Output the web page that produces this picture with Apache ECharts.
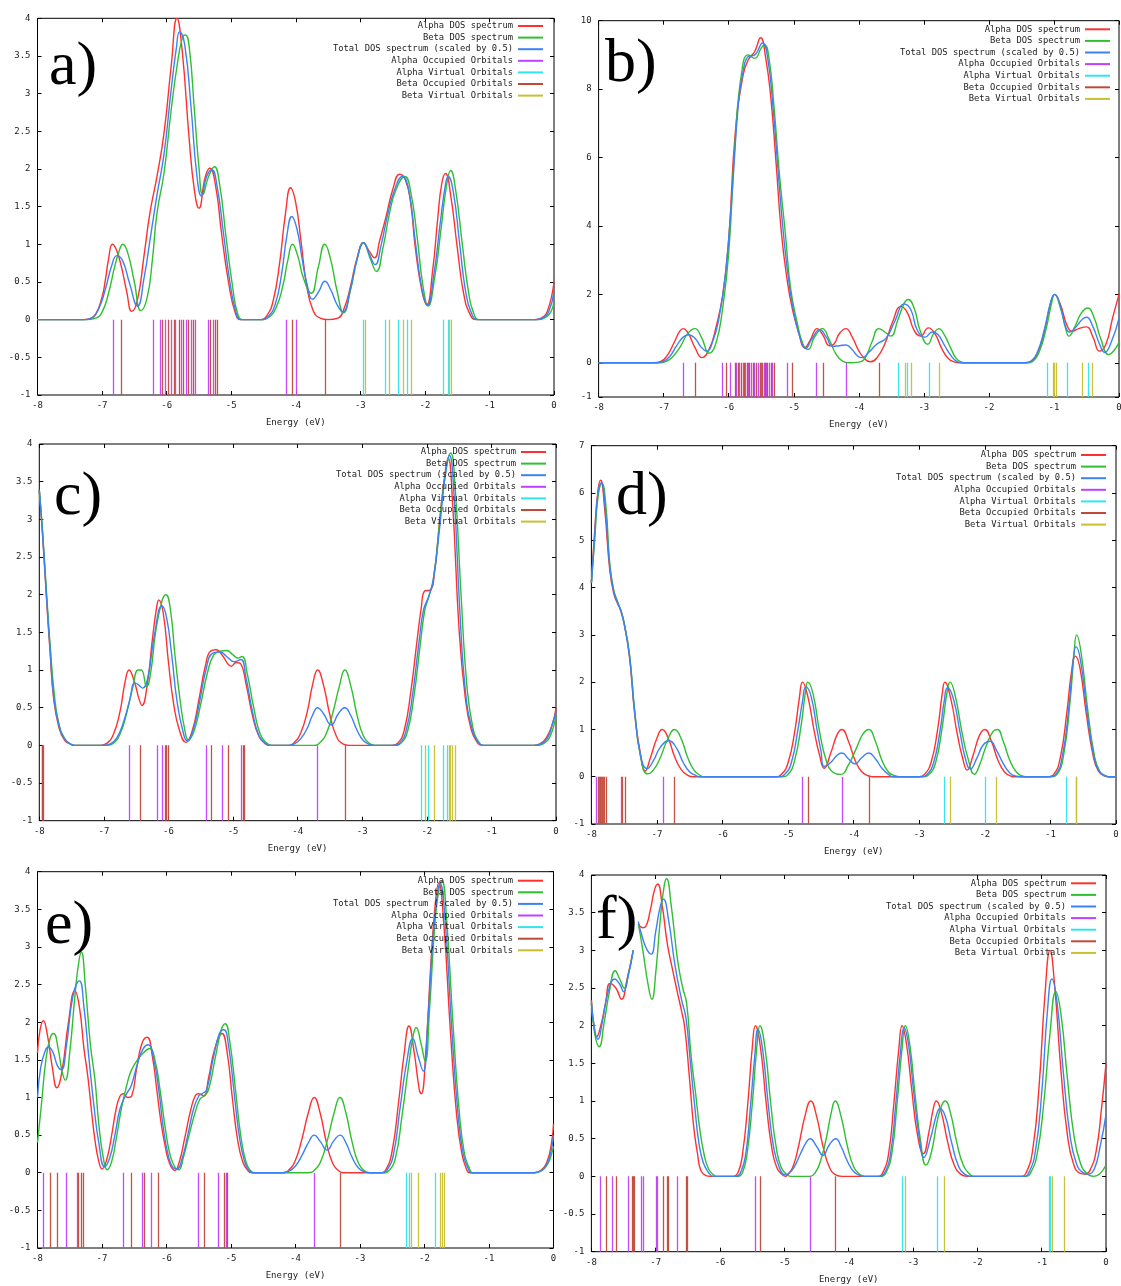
<!DOCTYPE html>
<html><head><meta charset="utf-8">
<script src="https://cdn.jsdelivr.net/npm/echarts@6/dist/echarts.min.js"></script>
<style>html,body{margin:0;padding:0;background:#fff}#c{width:1121px;height:1286px}</style>
</head><body><div id="c"></div><script>
// ---------- names / labels ----------
const seriesNames = ['Alpha DOS spectrum','Beta DOS spectrum','Total DOS spectrum (scaled by 0.5)','Alpha Occupied Orbitals','Alpha Virtual Orbitals','Beta Occupied Orbitals','Beta Virtual Orbitals'];
const panelLabels = ['a)','b)','c)','d)','e)','f)'];
const xTicks = [-8,-7,-6,-5,-4,-3,-2,-1,0];
const yTicksB = [-1,0,2,4,6,8,10];

// ---------- panel a ----------
const aAlpha = [[-8,0],[-7.3,0],[-7.2,0.01],[-7.1,0.07],[-7.0,0.3],[-6.95,0.52],[-6.9,0.8],[-6.84,1.0],[-6.78,0.93],[-6.7,0.7],[-6.62,0.38],[-6.54,0.11],[-6.45,0.27],[-6.35,0.85],[-6.26,1.41],[-6.15,1.9],[-6.04,2.48],[-5.93,3.36],[-5.84,4.0],[-5.76,3.58],[-5.65,2.39],[-5.57,1.72],[-5.5,1.48],[-5.4,1.9],[-5.33,2.01],[-5.24,1.77],[-5.15,1.15],[-5.04,0.49],[-4.93,0.07],[-4.85,0],[-4.55,0],[-4.45,0.05],[-4.35,0.25],[-4.25,0.75],[-4.16,1.4],[-4.08,1.75],[-4.0,1.55],[-3.92,1.05],[-3.83,0.45],[-3.73,0.12],[-3.62,0.02],[-3.5,0],[-3.35,0.02],[-3.25,0.15],[-3.15,0.45],[-3.05,0.82],[-2.95,1.02],[-2.87,0.92],[-2.78,0.82],[-2.7,1.05],[-2.6,1.37],[-2.5,1.72],[-2.39,1.93],[-2.3,1.85],[-2.22,1.55],[-2.15,0.97],[-2.05,0.4],[-1.97,0.2],[-1.88,0.65],[-1.8,1.35],[-1.74,1.8],[-1.68,1.94],[-1.6,1.65],[-1.5,0.97],[-1.4,0.35],[-1.3,0.07],[-1.2,0],[-0.3,0],[-0.2,0.02],[-0.1,0.12],[0,0.5]];
const aBeta = [[-8,0],[-7.25,0],[-7.1,0.02],[-7.0,0.1],[-6.9,0.35],[-6.8,0.72],[-6.72,0.95],[-6.68,1.0],[-6.6,0.88],[-6.5,0.5],[-6.4,0.12],[-6.3,0.3],[-6.22,0.8],[-6.15,1.41],[-6.04,1.95],[-5.93,2.78],[-5.84,3.36],[-5.76,3.73],[-5.71,3.78],[-5.65,3.62],[-5.57,2.78],[-5.5,2.03],[-5.44,1.66],[-5.35,1.9],[-5.26,2.03],[-5.18,1.8],[-5.08,1.1],[-4.98,0.45],[-4.9,0.08],[-4.82,0],[-4.55,0],[-4.42,0.03],[-4.3,0.17],[-4.2,0.45],[-4.12,0.8],[-4.05,1.0],[-3.97,0.85],[-3.88,0.55],[-3.76,0.35],[-3.65,0.7],[-3.55,1.0],[-3.46,0.8],[-3.36,0.38],[-3.26,0.09],[-3.15,0.4],[-3.05,0.8],[-2.95,1.02],[-2.85,0.82],[-2.75,0.64],[-2.65,0.95],[-2.55,1.4],[-2.45,1.72],[-2.31,1.9],[-2.22,1.7],[-2.12,1.1],[-2.03,0.45],[-1.95,0.18],[-1.85,0.55],[-1.75,1.2],[-1.67,1.75],[-1.6,1.98],[-1.52,1.7],[-1.42,1.0],[-1.33,0.4],[-1.25,0.1],[-1.15,0],[-0.25,0],[-0.15,0.02],[-0.05,0.1],[0,0.25]];
const aTotal = [[-8,0],[-7.3,0],[-7.15,0.03],[-7.05,0.15],[-6.95,0.4],[-6.85,0.72],[-6.77,0.85],[-6.68,0.78],[-6.58,0.5],[-6.45,0.18],[-6.35,0.55],[-6.25,1.1],[-6.15,1.65],[-6.04,2.2],[-5.93,3.05],[-5.85,3.6],[-5.8,3.82],[-5.72,3.65],[-5.62,2.8],[-5.53,1.9],[-5.46,1.64],[-5.38,1.9],[-5.3,1.99],[-5.22,1.78],[-5.12,1.15],[-5.02,0.5],[-4.92,0.08],[-4.85,0],[-4.55,0],[-4.43,0.04],[-4.32,0.2],[-4.22,0.6],[-4.14,1.1],[-4.06,1.37],[-3.98,1.2],[-3.9,0.8],[-3.82,0.45],[-3.74,0.27],[-3.64,0.38],[-3.55,0.51],[-3.46,0.4],[-3.36,0.2],[-3.27,0.1],[-3.15,0.42],[-3.05,0.8],[-2.95,1.02],[-2.86,0.87],[-2.77,0.73],[-2.68,0.98],[-2.58,1.38],[-2.47,1.72],[-2.35,1.9],[-2.25,1.72],[-2.15,1.05],[-2.05,0.43],[-1.96,0.19],[-1.86,0.6],[-1.76,1.3],[-1.68,1.8],[-1.64,1.9],[-1.56,1.7],[-1.46,1.0],[-1.37,0.38],[-1.28,0.09],[-1.18,0],[-0.28,0],[-0.18,0.02],[-0.08,0.11],[0,0.38]];
const aAlphaOcc = [-6.83,-6.20,-6.10,-6.02,-5.93,-5.86,-5.77,-5.70,-5.62,-5.56,-5.36,-5.28,-4.14,-4.00];
const aAlphaVirt = [-2.96,-2.61,-2.42,-2.28,-1.71,-1.64];
const aBetaOcc = [-6.70,-6.07,-5.97,-5.88,-5.80,-5.74,-5.66,-5.58,-5.32,-5.25,-5.22,-4.05,-3.55];
const aBetaVirt = [-2.93,-2.55,-2.34,-2.21,-1.62,-1.59];

// ---------- panel b ----------
const bAlpha = [[-8,0],[-7.15,0],[-7.05,0.03],[-6.95,0.2],[-6.85,0.55],[-6.75,0.93],[-6.7,1.0],[-6.62,0.85],[-6.52,0.45],[-6.41,0.15],[-6.3,0.4],[-6.2,1.0],[-6.09,2.0],[-6.0,3.6],[-5.9,6.7],[-5.78,8.4],[-5.7,8.85],[-5.6,9.1],[-5.51,9.5],[-5.43,8.9],[-5.35,7.7],[-5.27,5.8],[-5.19,3.8],[-5.1,2.4],[-5.02,1.56],[-4.92,0.85],[-4.83,0.44],[-4.75,0.65],[-4.64,1.0],[-4.55,0.8],[-4.45,0.5],[-4.38,0.55],[-4.3,0.85],[-4.2,1.0],[-4.1,0.75],[-4.0,0.35],[-3.9,0.1],[-3.82,0.03],[-3.72,0.15],[-3.6,0.55],[-3.48,1.2],[-3.35,1.65],[-3.25,1.45],[-3.15,0.95],[-3.05,0.78],[-2.93,1.02],[-2.83,0.85],[-2.72,0.4],[-2.62,0.12],[-2.52,0.02],[-2.45,0],[-1.45,0],[-1.35,0.05],[-1.25,0.3],[-1.15,0.9],[-1.05,1.75],[-0.99,2.0],[-0.9,1.7],[-0.8,1.1],[-0.72,0.92],[-0.62,1.0],[-0.5,1.05],[-0.4,0.75],[-0.3,0.34],[-0.2,0.55],[-0.1,1.3],[0,2.0]];
const bBeta = [[-8,0],[-7.05,0],[-6.95,0.05],[-6.85,0.2],[-6.75,0.45],[-6.62,0.88],[-6.52,1.0],[-6.42,0.75],[-6.3,0.28],[-6.2,0.55],[-6.1,1.5],[-6.0,3.2],[-5.9,6.5],[-5.8,8.5],[-5.7,9.0],[-5.6,8.9],[-5.5,9.2],[-5.45,9.3],[-5.38,8.9],[-5.3,7.4],[-5.22,5.5],[-5.13,3.8],[-5.05,2.2],[-4.95,1.2],[-4.86,0.55],[-4.78,0.39],[-4.68,0.75],[-4.56,1.0],[-4.46,0.7],[-4.35,0.25],[-4.25,0.05],[-4.15,0],[-4.0,0.02],[-3.9,0.15],[-3.8,0.6],[-3.69,1.0],[-3.6,0.9],[-3.51,0.78],[-3.4,1.25],[-3.3,1.75],[-3.24,1.85],[-3.15,1.6],[-3.05,0.9],[-2.94,0.54],[-2.85,0.85],[-2.77,1.0],[-2.68,0.8],[-2.58,0.4],[-2.5,0.12],[-2.42,0.02],[-2.35,0],[-1.42,0],[-1.32,0.05],[-1.22,0.35],[-1.12,1.0],[-1.03,1.8],[-0.99,2.0],[-0.9,1.6],[-0.82,1.0],[-0.77,0.78],[-0.68,1.05],[-0.58,1.45],[-0.48,1.6],[-0.38,1.3],[-0.28,0.7],[-0.16,0.24],[-0.08,0.35],[0,0.6]];
const bTotal = [[-8,0],[-7.1,0],[-7.0,0.04],[-6.9,0.2],[-6.8,0.5],[-6.7,0.75],[-6.62,0.82],[-6.52,0.72],[-6.42,0.45],[-6.34,0.34],[-6.25,0.6],[-6.15,1.3],[-6.05,2.6],[-5.95,4.9],[-5.85,7.6],[-5.78,8.5],[-5.7,8.95],[-5.6,9.0],[-5.48,9.35],[-5.4,8.9],[-5.32,7.5],[-5.24,5.6],[-5.16,3.8],[-5.07,2.3],[-4.98,1.3],[-4.88,0.6],[-4.82,0.42],[-4.72,0.7],[-4.6,0.97],[-4.5,0.75],[-4.4,0.48],[-4.3,0.5],[-4.2,0.52],[-4.1,0.38],[-4.02,0.2],[-3.95,0.15],[-3.85,0.3],[-3.72,0.55],[-3.58,0.72],[-3.45,1.2],[-3.3,1.72],[-3.2,1.55],[-3.1,0.95],[-2.98,0.75],[-2.87,0.9],[-2.78,0.82],[-2.68,0.5],[-2.58,0.2],[-2.5,0.05],[-2.42,0],[-1.45,0],[-1.35,0.05],[-1.25,0.33],[-1.15,0.95],[-1.05,1.78],[-0.99,2.0],[-0.9,1.65],[-0.82,1.05],[-0.76,0.9],[-0.66,1.05],[-0.56,1.28],[-0.5,1.33],[-0.4,1.05],[-0.3,0.55],[-0.22,0.3],[-0.12,0.6],[0,1.3]];
const bAlphaOcc = [-6.70,-6.10,-5.98,-5.88,-5.84,-5.78,-5.74,-5.70,-5.66,-5.60,-5.55,-5.50,-5.46,-5.42,-5.38,-5.33,-5.10,-4.65,-4.20];
const bAlphaVirt = [-3.40,-3.25,-2.91,-1.11,-0.80,-0.47];
const bBetaOcc = [-6.52,-6.03,-5.90,-5.86,-5.81,-5.76,-5.72,-5.68,-5.63,-5.58,-5.52,-5.48,-5.44,-5.40,-5.35,-5.30,-5.02,-4.54,-3.68];
const bBetaVirt = [-3.29,-3.19,-2.76,-1.01,-0.99,-0.96,-0.57,-0.41];

// ---------- panel c ----------
const cAlpha = [[-8,3.39],[-7.95,2.8],[-7.89,1.97],[-7.83,1.2],[-7.78,0.64],[-7.7,0.25],[-7.61,0.07],[-7.5,0.01],[-7.45,0],[-7.05,0],[-6.95,0.03],[-6.85,0.15],[-6.75,0.45],[-6.67,0.85],[-6.61,1.0],[-6.53,0.85],[-6.45,0.6],[-6.41,0.53],[-6.33,0.8],[-6.25,1.4],[-6.18,1.85],[-6.15,1.93],[-6.08,1.75],[-6.0,1.1],[-5.92,0.55],[-5.83,0.2],[-5.73,0.04],[-5.63,0.2],[-5.53,0.6],[-5.43,1.05],[-5.35,1.25],[-5.26,1.27],[-5.17,1.2],[-5.08,1.08],[-5.03,1.05],[-4.95,1.1],[-4.88,1.08],[-4.8,0.82],[-4.7,0.4],[-4.6,0.12],[-4.5,0.02],[-4.43,0],[-4.15,0],[-4.05,0.04],[-3.95,0.17],[-3.85,0.45],[-3.77,0.8],[-3.69,1.0],[-3.6,0.8],[-3.5,0.4],[-3.4,0.12],[-3.3,0.02],[-3.2,0],[-2.55,0],[-2.45,0.03],[-2.35,0.2],[-2.25,0.7],[-2.15,1.4],[-2.09,1.8],[-2.03,2.05],[-1.95,2.06],[-1.88,2.3],[-1.8,3.0],[-1.72,3.6],[-1.67,3.81],[-1.6,3.2],[-1.5,1.53],[-1.4,0.6],[-1.31,0.2],[-1.22,0.04],[-1.15,0],[-0.35,0],[-0.25,0.02],[-0.15,0.1],[-0.05,0.3],[0,0.5]];
const cBeta = [[-8,3.39],[-7.95,2.85],[-7.89,2.05],[-7.83,1.3],[-7.77,0.7],[-7.7,0.3],[-7.6,0.08],[-7.5,0.01],[-7.45,0],[-6.95,0],[-6.85,0.03],[-6.75,0.15],[-6.65,0.42],[-6.55,0.78],[-6.47,1.0],[-6.42,1.0],[-6.34,0.78],[-6.27,1.0],[-6.2,1.5],[-6.1,1.92],[-6.04,2.0],[-5.97,1.8],[-5.9,1.2],[-5.82,0.6],[-5.75,0.22],[-5.69,0.07],[-5.6,0.2],[-5.5,0.55],[-5.4,0.95],[-5.3,1.2],[-5.2,1.25],[-5.1,1.26],[-5.0,1.2],[-4.93,1.16],[-4.86,1.18],[-4.78,0.95],[-4.68,0.5],[-4.58,0.15],[-4.48,0.03],[-4.4,0],[-3.75,0],[-3.65,0.04],[-3.55,0.17],[-3.45,0.45],[-3.35,0.8],[-3.27,1.0],[-3.18,0.8],[-3.08,0.4],[-2.98,0.12],[-2.88,0.02],[-2.8,0],[-2.5,0],[-2.4,0.03],[-2.3,0.18],[-2.2,0.65],[-2.1,1.35],[-2.03,1.8],[-1.97,1.97],[-1.9,2.2],[-1.82,2.8],[-1.73,3.5],[-1.63,3.88],[-1.56,3.4],[-1.47,2.0],[-1.38,0.8],[-1.29,0.25],[-1.2,0.05],[-1.12,0],[-0.3,0],[-0.2,0.02],[-0.1,0.1],[0,0.4]];
const cTotal = [[-8,3.39],[-7.95,2.82],[-7.89,2.0],[-7.83,1.25],[-7.78,0.67],[-7.7,0.28],[-7.6,0.08],[-7.5,0.01],[-7.45,0],[-7.0,0],[-6.9,0.02],[-6.8,0.1],[-6.7,0.3],[-6.6,0.6],[-6.52,0.83],[-6.46,0.8],[-6.4,0.76],[-6.32,0.9],[-6.22,1.45],[-6.1,1.85],[-6.03,1.7],[-5.95,1.2],[-5.87,0.6],[-5.78,0.2],[-5.71,0.06],[-5.62,0.2],[-5.52,0.57],[-5.42,1.0],[-5.32,1.22],[-5.2,1.24],[-5.1,1.18],[-4.98,1.11],[-4.88,1.14],[-4.8,0.9],[-4.7,0.45],[-4.6,0.13],[-4.5,0.03],[-4.42,0],[-4.15,0],[-4.05,0.02],[-3.95,0.09],[-3.85,0.23],[-3.77,0.4],[-3.69,0.5],[-3.6,0.42],[-3.48,0.27],[-3.37,0.42],[-3.27,0.5],[-3.18,0.4],[-3.08,0.2],[-2.98,0.06],[-2.88,0.01],[-2.8,0],[-2.52,0],[-2.42,0.03],[-2.32,0.2],[-2.22,0.68],[-2.12,1.38],[-2.05,1.8],[-1.97,1.98],[-1.9,2.2],[-1.8,2.9],[-1.72,3.55],[-1.65,3.85],[-1.58,3.35],[-1.49,1.8],[-1.4,0.7],[-1.3,0.22],[-1.21,0.05],[-1.13,0],[-0.33,0],[-0.23,0.02],[-0.13,0.1],[-0.05,0.3],[0,0.45]];
const cAlphaOcc = [-7.96,-6.61,-6.18,-6.10,-5.42,-5.17,-4.88,-3.69];
const cAlphaVirt = [-2.08,-1.98,-1.75,-1.68];
const cBetaOcc = [-7.95,-7.94,-6.44,-6.05,-6.03,-6.01,-5.34,-5.08,-4.85,-4.83,-3.27];
const cBetaVirt = [-2.03,-1.89,-1.66,-1.63,-1.60,-1.56];

// ---------- panel d ----------
const dAlpha = [[-8,4.09],[-7.95,5.2],[-7.9,6.05],[-7.86,6.27],[-7.8,5.7],[-7.72,4.37],[-7.66,3.88],[-7.6,3.66],[-7.55,3.52],[-7.5,3.24],[-7.42,2.54],[-7.34,1.34],[-7.25,0.46],[-7.18,0.12],[-7.1,0.4],[-7.0,0.82],[-6.92,1.0],[-6.83,0.82],[-6.73,0.42],[-6.63,0.15],[-6.53,0.03],[-6.45,0],[-5.2,0],[-5.1,0.05],[-5.0,0.3],[-4.9,0.95],[-4.83,1.65],[-4.78,2.0],[-4.7,1.7],[-4.6,0.95],[-4.52,0.45],[-4.45,0.18],[-4.35,0.5],[-4.25,0.9],[-4.18,1.0],[-4.08,0.75],[-3.98,0.35],[-3.88,0.11],[-3.78,0.02],[-3.7,0],[-3.0,0],[-2.92,0.05],[-2.82,0.3],[-2.72,1.0],[-2.65,1.75],[-2.61,2.0],[-2.52,1.65],[-2.42,0.9],[-2.34,0.4],[-2.27,0.14],[-2.18,0.45],[-2.08,0.88],[-2.0,1.0],[-1.9,0.75],[-1.8,0.35],[-1.7,0.1],[-1.6,0.01],[-1.55,0],[-1.05,0],[-0.95,0.05],[-0.85,0.4],[-0.75,1.35],[-0.68,2.2],[-0.62,2.55],[-0.55,2.3],[-0.45,1.3],[-0.35,0.45],[-0.27,0.12],[-0.18,0.02],[-0.1,0],[0,0]];
const dBeta = [[-8,4.1],[-7.95,5.0],[-7.9,5.9],[-7.84,6.2],[-7.78,5.75],[-7.72,4.5],[-7.66,3.95],[-7.6,3.7],[-7.55,3.5],[-7.5,3.25],[-7.42,2.6],[-7.34,1.4],[-7.25,0.42],[-7.14,0.06],[-7.05,0.15],[-6.95,0.4],[-6.85,0.75],[-6.73,1.0],[-6.63,0.8],[-6.53,0.4],[-6.43,0.13],[-6.33,0.02],[-6.28,0],[-5.1,0],[-5.0,0.05],[-4.9,0.35],[-4.8,1.1],[-4.74,1.75],[-4.7,2.0],[-4.62,1.75],[-4.52,0.95],[-4.42,0.35],[-4.32,0.1],[-4.2,0.05],[-4.08,0.25],[-3.96,0.6],[-3.86,0.9],[-3.77,1.0],[-3.67,0.75],[-3.57,0.35],[-3.47,0.1],[-3.37,0.02],[-3.3,0],[-2.95,0],[-2.85,0.05],[-2.75,0.3],[-2.65,1.05],[-2.58,1.75],[-2.53,2.0],[-2.45,1.7],[-2.35,0.95],[-2.25,0.35],[-2.16,0.05],[-2.08,0.25],[-1.98,0.65],[-1.88,0.95],[-1.81,1.0],[-1.72,0.75],[-1.62,0.35],[-1.52,0.1],[-1.42,0.01],[-1.38,0],[-1.0,0],[-0.9,0.05],[-0.8,0.45],[-0.7,1.6],[-0.64,2.6],[-0.6,3.0],[-0.53,2.6],[-0.43,1.4],[-0.33,0.45],[-0.25,0.12],[-0.16,0.02],[-0.1,0],[0,0]];
const dTotal = [[-8,4.1],[-7.95,5.1],[-7.9,6.0],[-7.85,6.22],[-7.79,5.7],[-7.72,4.45],[-7.66,3.92],[-7.6,3.68],[-7.55,3.5],[-7.5,3.22],[-7.42,2.57],[-7.34,1.37],[-7.25,0.45],[-7.15,0.17],[-7.05,0.35],[-6.95,0.62],[-6.82,0.76],[-6.7,0.6],[-6.6,0.3],[-6.5,0.1],[-6.4,0.02],[-6.35,0],[-5.15,0],[-5.05,0.05],[-4.95,0.3],[-4.85,1.0],[-4.78,1.6],[-4.73,1.9],[-4.65,1.7],[-4.56,1.0],[-4.5,0.55],[-4.45,0.22],[-4.35,0.3],[-4.25,0.46],[-4.18,0.5],[-4.08,0.38],[-3.98,0.27],[-3.88,0.4],[-3.77,0.5],[-3.67,0.38],[-3.57,0.18],[-3.47,0.05],[-3.4,0],[-2.98,0],[-2.88,0.05],[-2.78,0.3],[-2.68,1.0],[-2.62,1.6],[-2.57,1.88],[-2.48,1.65],[-2.38,0.95],[-2.3,0.4],[-2.22,0.16],[-2.12,0.4],[-2.02,0.68],[-1.92,0.75],[-1.82,0.55],[-1.72,0.28],[-1.62,0.08],[-1.52,0.01],[-1.45,0],[-1.02,0],[-0.92,0.05],[-0.82,0.42],[-0.72,1.45],[-0.66,2.35],[-0.61,2.75],[-0.54,2.45],[-0.44,1.35],[-0.34,0.45],[-0.26,0.12],[-0.17,0.02],[-0.1,0],[0,0]];
const dAlphaOcc = [-7.92,-7.88,-7.85,-7.82,-7.55,-6.91,-4.79,-4.18];
const dAlphaVirt = [-2.62,-2.00,-0.76];
const dBetaOcc = [-7.90,-7.86,-7.83,-7.80,-7.78,-7.53,-7.48,-6.74,-4.69,-3.76];
const dBetaVirt = [-2.53,-1.82,-0.61,-0.60];

// ---------- panel e ----------
const eAlpha = [[-8,1.59],[-7.96,1.9],[-7.91,2.02],[-7.85,1.85],[-7.77,1.4],[-7.7,1.13],[-7.62,1.35],[-7.52,2.0],[-7.42,2.42],[-7.35,2.2],[-7.28,1.65],[-7.22,1.28],[-7.16,0.8],[-7.11,0.44],[-7.05,0.15],[-7.0,0.05],[-6.92,0.2],[-6.85,0.5],[-6.78,0.85],[-6.72,1.02],[-6.67,1.05],[-6.6,1.0],[-6.54,1.02],[-6.46,1.4],[-6.38,1.72],[-6.3,1.8],[-6.22,1.55],[-6.15,1.1],[-6.09,0.7],[-6.02,0.35],[-5.95,0.12],[-5.87,0.03],[-5.8,0.15],[-5.72,0.45],[-5.62,0.85],[-5.55,1.03],[-5.5,1.05],[-5.42,1.02],[-5.35,1.25],[-5.25,1.65],[-5.14,1.85],[-5.06,1.6],[-4.98,1.0],[-4.9,0.45],[-4.82,0.15],[-4.74,0.03],[-4.68,0],[-4.2,0],[-4.1,0.04],[-4.0,0.17],[-3.9,0.45],[-3.8,0.8],[-3.71,1.0],[-3.62,0.8],[-3.52,0.4],[-3.42,0.12],[-3.32,0.02],[-3.25,0],[-2.7,0],[-2.6,0.04],[-2.5,0.3],[-2.4,0.95],[-2.32,1.55],[-2.24,1.95],[-2.16,1.6],[-2.08,1.1],[-2.05,1.05],[-1.98,1.6],[-1.9,2.8],[-1.83,3.6],[-1.78,3.85],[-1.7,3.3],[-1.6,1.9],[-1.5,0.75],[-1.42,0.25],[-1.35,0.05],[-1.3,0],[-0.3,0],[-0.2,0.03],[-0.1,0.15],[-0.03,0.4],[0,0.65]];
const eBeta = [[-8,0.4],[-7.94,0.9],[-7.87,1.5],[-7.8,1.8],[-7.75,1.85],[-7.68,1.65],[-7.62,1.35],[-7.57,1.23],[-7.5,1.6],[-7.42,2.35],[-7.36,2.8],[-7.32,2.93],[-7.26,2.5],[-7.18,1.7],[-7.11,1.24],[-7.05,0.65],[-6.98,0.2],[-6.92,0.04],[-6.85,0.15],[-6.78,0.45],[-6.7,0.85],[-6.62,1.15],[-6.55,1.35],[-6.45,1.5],[-6.35,1.6],[-6.26,1.65],[-6.18,1.5],[-6.1,1.1],[-6.02,0.6],[-5.94,0.22],[-5.86,0.06],[-5.81,0.04],[-5.74,0.2],[-5.65,0.5],[-5.55,0.82],[-5.48,0.98],[-5.42,1.02],[-5.35,1.1],[-5.25,1.5],[-5.15,1.9],[-5.09,1.98],[-5.02,1.75],[-4.93,1.1],[-4.85,0.5],[-4.77,0.15],[-4.7,0.03],[-4.64,0],[-3.8,0],[-3.7,0.04],[-3.6,0.17],[-3.5,0.45],[-3.4,0.8],[-3.31,1.0],[-3.22,0.8],[-3.12,0.4],[-3.02,0.12],[-2.92,0.02],[-2.85,0],[-2.65,0],[-2.55,0.03],[-2.45,0.2],[-2.35,0.75],[-2.25,1.4],[-2.18,1.8],[-2.13,1.93],[-2.05,1.7],[-1.99,1.48],[-1.92,2.2],[-1.84,3.3],[-1.78,3.75],[-1.73,3.88],[-1.66,3.4],[-1.56,2.0],[-1.46,0.8],[-1.38,0.25],[-1.3,0.05],[-1.25,0],[-0.3,0],[-0.2,0.02],[-0.1,0.1],[-0.03,0.25],[0,0.35]];
const eTotal = [[-8,1.0],[-7.95,1.4],[-7.88,1.62],[-7.83,1.67],[-7.76,1.6],[-7.69,1.42],[-7.63,1.37],[-7.55,1.7],[-7.45,2.35],[-7.35,2.55],[-7.28,2.2],[-7.2,1.5],[-7.12,0.85],[-7.05,0.4],[-6.96,0.08],[-6.88,0.2],[-6.8,0.5],[-6.72,0.85],[-6.62,1.05],[-6.55,1.15],[-6.45,1.45],[-6.36,1.65],[-6.28,1.7],[-6.2,1.52],[-6.12,1.1],[-6.05,0.6],[-5.97,0.22],[-5.9,0.07],[-5.84,0.05],[-5.76,0.18],[-5.67,0.5],[-5.58,0.85],[-5.5,1.02],[-5.45,1.05],[-5.38,1.1],[-5.28,1.5],[-5.18,1.85],[-5.11,1.9],[-5.04,1.7],[-4.95,1.05],[-4.87,0.48],[-4.79,0.15],[-4.72,0.03],[-4.66,0],[-4.2,0],[-4.1,0.02],[-4.0,0.09],[-3.9,0.23],[-3.8,0.4],[-3.71,0.5],[-3.62,0.42],[-3.51,0.3],[-3.41,0.42],[-3.31,0.5],[-3.22,0.4],[-3.12,0.2],[-3.02,0.06],[-2.92,0.01],[-2.85,0],[-2.68,0],[-2.58,0.04],[-2.48,0.25],[-2.38,0.85],[-2.28,1.45],[-2.18,1.78],[-2.1,1.55],[-2.02,1.35],[-1.95,2.0],[-1.87,3.1],[-1.8,3.7],[-1.76,3.85],[-1.68,3.35],[-1.58,1.95],[-1.48,0.78],[-1.4,0.25],[-1.32,0.05],[-1.27,0],[-0.3,0],[-0.2,0.02],[-0.1,0.12],[-0.03,0.32],[0,0.5]];
const eAlphaOcc = [-7.91,-7.56,-7.39,-6.67,-6.37,-6.23,-5.51,-5.19,-5.08,-3.71];
const eAlphaVirt = [-2.28,-2.24,-1.84];
const eBetaOcc = [-7.81,-7.70,-7.37,-7.32,-7.29,-6.54,-6.34,-6.13,-5.42,-5.10,-5.06,-3.31];
const eBetaVirt = [-2.20,-2.10,-1.76,-1.72,-1.69];

// ---------- panel f (curves hidden behind the label between -7.35 and -7.27) ----------
const fAlpha = [[-8,2.34],[-7.96,2.0],[-7.92,1.85],[-7.86,1.98],[-7.78,2.3],[-7.71,2.56],[-7.62,2.5],[-7.53,2.35],[-7.45,2.6],[-7.35,3.0],[-7.31,null],[-7.27,3.35],[-7.2,3.3],[-7.16,3.31],[-7.08,3.55],[-7.02,3.8],[-6.97,3.88],[-6.9,3.6],[-6.82,3.09],[-6.74,2.75],[-6.66,2.43],[-6.6,2.2],[-6.55,1.98],[-6.48,1.35],[-6.41,0.66],[-6.35,0.3],[-6.3,0.08],[-6.22,0.01],[-6.15,0],[-5.8,0],[-5.72,0.05],[-5.65,0.3],[-5.57,0.95],[-5.5,1.7],[-5.45,2.0],[-5.37,1.7],[-5.28,0.95],[-5.2,0.4],[-5.12,0.12],[-5.03,0.02],[-4.98,0],[-4.95,0.02],[-4.87,0.12],[-4.78,0.4],[-4.68,0.8],[-4.59,1.0],[-4.5,0.8],[-4.4,0.4],[-4.3,0.12],[-4.2,0.02],[-4.1,0],[-3.55,0],[-3.47,0.05],[-3.38,0.3],[-3.3,0.95],[-3.22,1.7],[-3.17,2.0],[-3.1,1.75],[-3.02,1.15],[-2.93,0.55],[-2.84,0.3],[-2.75,0.6],[-2.68,0.92],[-2.64,1.0],[-2.56,0.85],[-2.46,0.45],[-2.36,0.15],[-2.26,0.03],[-2.16,0],[-1.32,0],[-1.24,0.05],[-1.14,0.35],[-1.04,1.2],[-0.95,2.4],[-0.87,3.0],[-0.8,2.55],[-0.7,1.4],[-0.6,0.55],[-0.5,0.15],[-0.4,0.04],[-0.33,0.03],[-0.25,0.08],[-0.15,0.35],[-0.07,0.9],[0,1.5]];
const fBeta = [[-8,2.32],[-7.95,1.9],[-7.88,1.72],[-7.8,2.05],[-7.72,2.45],[-7.63,2.73],[-7.56,2.62],[-7.49,2.5],[-7.42,2.7],[-7.35,3.0],[-7.31,null],[-7.27,3.35],[-7.2,3.0],[-7.12,2.55],[-7.06,2.35],[-7.0,2.7],[-6.93,3.4],[-6.87,3.85],[-6.83,3.95],[-6.76,3.6],[-6.66,2.87],[-6.58,2.5],[-6.52,2.3],[-6.45,1.6],[-6.38,1.1],[-6.32,0.66],[-6.25,0.3],[-6.18,0.1],[-6.1,0.02],[-6.05,0],[-5.72,0],[-5.65,0.05],[-5.58,0.3],[-5.5,0.95],[-5.43,1.7],[-5.38,2.0],[-5.3,1.7],[-5.21,0.95],[-5.13,0.4],[-5.05,0.12],[-4.96,0.02],[-4.9,0],[-4.6,0],[-4.52,0.05],[-4.44,0.2],[-4.35,0.5],[-4.27,0.85],[-4.21,1.0],[-4.12,0.8],[-4.02,0.4],[-3.92,0.12],[-3.82,0.02],[-3.75,0],[-3.5,0],[-3.42,0.05],[-3.33,0.3],[-3.25,0.95],[-3.17,1.7],[-3.12,2.0],[-3.05,1.75],[-2.97,1.1],[-2.88,0.45],[-2.8,0.15],[-2.72,0.3],[-2.62,0.75],[-2.55,0.95],[-2.5,1.0],[-2.42,0.85],[-2.32,0.45],[-2.22,0.15],[-2.12,0.03],[-2.05,0],[-1.25,0],[-1.17,0.05],[-1.07,0.3],[-0.97,0.95],[-0.87,1.9],[-0.78,2.45],[-0.7,2.15],[-0.6,1.3],[-0.5,0.55],[-0.4,0.18],[-0.3,0.04],[-0.19,0],[-0.1,0.03],[0,0.15]];
const fTotal = [[-8,2.3],[-7.95,1.95],[-7.9,1.82],[-7.83,2.05],[-7.74,2.45],[-7.64,2.62],[-7.56,2.55],[-7.5,2.45],[-7.43,2.65],[-7.35,3.0],[-7.31,null],[-7.27,3.38],[-7.2,3.15],[-7.13,3.0],[-7.07,2.95],[-7.0,3.25],[-6.93,3.58],[-6.88,3.68],[-6.8,3.4],[-6.7,2.8],[-6.6,2.35],[-6.53,2.1],[-6.46,1.5],[-6.39,0.9],[-6.33,0.45],[-6.26,0.18],[-6.18,0.05],[-6.1,0],[-5.76,0],[-5.68,0.05],[-5.6,0.3],[-5.53,0.9],[-5.46,1.6],[-5.41,1.95],[-5.34,1.7],[-5.25,0.95],[-5.17,0.4],[-5.08,0.12],[-4.99,0.02],[-4.93,0.04],[-4.85,0.12],[-4.75,0.3],[-4.66,0.45],[-4.6,0.5],[-4.5,0.4],[-4.4,0.28],[-4.3,0.42],[-4.2,0.5],[-4.12,0.4],[-4.02,0.2],[-3.92,0.06],[-3.82,0.01],[-3.75,0],[-3.52,0],[-3.44,0.05],[-3.35,0.3],[-3.27,0.95],[-3.19,1.7],[-3.14,1.97],[-3.07,1.75],[-2.99,1.12],[-2.9,0.5],[-2.83,0.25],[-2.73,0.5],[-2.63,0.83],[-2.58,0.9],[-2.5,0.8],[-2.4,0.45],[-2.3,0.15],[-2.2,0.03],[-2.1,0],[-1.28,0],[-1.2,0.05],[-1.1,0.32],[-1.0,1.1],[-0.91,2.2],[-0.84,2.62],[-0.76,2.3],[-0.66,1.35],[-0.56,0.55],[-0.46,0.17],[-0.36,0.05],[-0.27,0.03],[-0.18,0.1],[-0.09,0.4],[0,0.82]];
const fAlphaOcc = [-7.86,-7.67,-7.43,-7.22,-7.20,-6.99,-6.98,-6.66,-5.45,-4.59];
const fAlphaVirt = [-3.17,-2.62,-0.88,-0.87];
const fBetaOcc = [-7.77,-7.61,-7.37,-7.35,-7.33,-6.88,-6.82,-6.80,-6.53,-6.51,-5.37,-4.21];
const fBetaVirt = [-3.12,-2.51,-0.83,-0.65];

// ---------- assembling ----------
const panels = [
  {curves:[aAlpha,aBeta,aTotal], levels:[aAlphaOcc,aAlphaVirt,aBetaOcc,aBetaVirt], y:[-1,4,0.5]},
  {curves:[bAlpha,bBeta,bTotal], levels:[bAlphaOcc,bAlphaVirt,bBetaOcc,bBetaVirt], y:[-1,10,null]},
  {curves:[cAlpha,cBeta,cTotal], levels:[cAlphaOcc,cAlphaVirt,cBetaOcc,cBetaVirt], y:[-1,4,0.5]},
  {curves:[dAlpha,dBeta,dTotal], levels:[dAlphaOcc,dAlphaVirt,dBetaOcc,dBetaVirt], y:[-1,7,1]},
  {curves:[eAlpha,eBeta,eTotal], levels:[eAlphaOcc,eAlphaVirt,eBetaOcc,eBetaVirt], y:[-1,4,0.5]},
  {curves:[fAlpha,fBeta,fTotal], levels:[fAlphaOcc,fAlphaVirt,fBetaOcc,fBetaVirt], y:[-1,4,0.5]}
];
const layout = [
  {grid:[37.5,18.3,516.5,376.7], legend:[578,20.2], label:[49,37]},
  {grid:[598.6,20.7,520.4,376.3], legend:[11,23.5], label:[605,34]},
  {grid:[39.3,444,516.7,376.7], legend:[575,446.2], label:[54,467]},
  {grid:[591.4,445.7,524.6,378.3], legend:[15,449.2], label:[616,467]},
  {grid:[37.5,871.7,516,376.3], legend:[578,874.9], label:[45,896]},
  {grid:[591.4,875,514.6,376.7], legend:[25,877.5], label:[596,891]}
];
const colors = ['#ff3030','#2fbf2f','#3c82f5','#c040ff','#30e6ee','#c04a3a','#c8c030'];
const MONO = 'DejaVu Sans Mono';
const txt = {fontFamily:MONO, fontSize:9, color:'#222'};

const grid=[], xAxis=[], yAxis=[], series=[], legend=[], title=[];
panels.forEach((p,i)=>{
  const L = layout[i];
  grid.push({left:L.grid[0], top:L.grid[1], width:L.grid[2], height:L.grid[3], show:true, borderColor:'#000', borderWidth:1, backgroundColor:'transparent', outerBoundsMode:'none', containLabel:false});
  const tick = {inside:true, length:4, lineStyle:{color:'#000', width:1}};
  const noLine = {show:false, onZero:false};
  xAxis.push({type:'value', gridIndex:i, position:'bottom', min:xTicks[0], max:xTicks[xTicks.length-1], interval:1, axisLine:noLine, axisTick:tick, splitLine:{show:false},
    axisLabel:Object.assign({margin:6, showMinLabel:true, showMaxLabel:true}, txt),
    name:'Energy (eV)', nameLocation:'middle', nameGap:23, nameTextStyle:txt});
  xAxis.push({type:'value', gridIndex:i, position:'top', min:xTicks[0], max:xTicks[xTicks.length-1], interval:1, axisLine:noLine, axisTick:tick, axisLabel:{show:false}, splitLine:{show:false}});
  const yBase = {type:'value', gridIndex:i, min:p.y[0], max:p.y[1], axisLine:noLine, splitLine:{show:false}};
  let yl, yr;
  if (p.y[2]) {
    yl = Object.assign({}, yBase, {position:'left', interval:p.y[2], axisTick:tick, axisLabel:Object.assign({margin:7, showMinLabel:true, showMaxLabel:true}, txt)});
    yr = Object.assign({}, yBase, {position:'right', interval:p.y[2], axisTick:tick, axisLabel:{show:false}});
  } else {
    yl = Object.assign({}, yBase, {position:'left', interval:1, axisTick:Object.assign({customValues:yTicksB}, tick), axisLabel:Object.assign({margin:7, customValues:yTicksB}, txt)});
    yr = Object.assign({}, yBase, {position:'right', interval:1, axisTick:Object.assign({customValues:yTicksB}, tick), axisLabel:{show:false}});
  }
  yAxis.push(yl, yr);
  p.curves.forEach((d,k)=>{
    series.push({type:'line', name:seriesNames[k], xAxisIndex:2*i, yAxisIndex:2*i, data:d, showSymbol:false, symbol:'none', smooth:0.5, connectNulls:false,
      lineStyle:{color:colors[k], width:1.4}, itemStyle:{color:colors[k]}, animation:false, silent:true, z:2});
  });
  p.levels.forEach((lv,k)=>{
    series.push({type:'lines', name:seriesNames[3+k], coordinateSystem:'cartesian2d', xAxisIndex:2*i, yAxisIndex:2*i,
      data: lv.map(e=>({coords:[[e,-1],[e,0]]})), lineStyle:{color:colors[3+k], width:1.3, opacity:0.95}, itemStyle:{color:colors[3+k]}, animation:false, silent:true, z:3});
  });
  legend.push({orient:'vertical', align:'right', right:L.legend[0], top:L.legend[1], padding:0, itemGap:0, itemWidth:25, itemHeight:2, selectedMode:false,
    textStyle:{fontFamily:MONO, fontSize:8.8, color:'#222', lineHeight:11.6},
    data: seriesNames.map((n,k)=>({name:n, icon:'rect', itemStyle:{color:colors[k], borderWidth:0}}))});
  title.push({text:panelLabels[i], left:L.label[0], top:L.label[1], padding:0, textStyle:{fontFamily:'Liberation Serif', fontSize:62, fontWeight:'normal', color:'#000', lineHeight:62}});
});

const chart = echarts.init(document.getElementById('c'), null, {renderer:'canvas'});
chart.setOption({backgroundColor:'#fff', animation:false, title, legend, grid, xAxis, yAxis, series});
</script></body></html>
